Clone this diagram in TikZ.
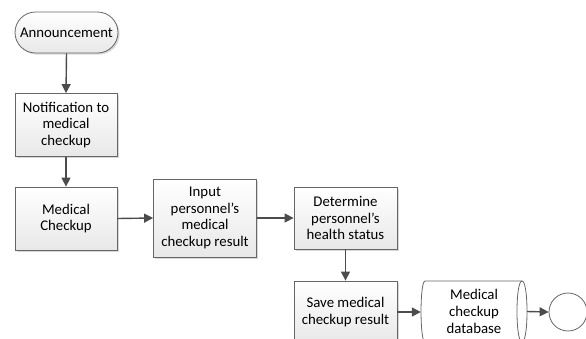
\documentclass[tikz,border=0pt]{standalone}
\usepackage{fontspec}
\setmainfont{Carlito}
\usetikzlibrary{arrows.meta,shadows,calc}

\begin{document}
\begin{tikzpicture}[x=1pt,y=-1pt,
  txt/.style={align=center, inner sep=1pt, font=\fontsize{14.8}{16.6}\selectfont},
  box/.style={txt, draw=black!60, line width=0.8pt, top color=white, bottom color=black!9,
    drop shadow={shadow xshift=1.6pt, shadow yshift=-1.6pt, fill=black!30, opacity=0.5},
    minimum width=102pt, minimum height=63pt},
  term/.style={box, minimum width=103pt, minimum height=41pt, rounded corners=20.5pt},
  flow/.style={draw=black!70, line width=1.4pt, -{Triangle[length=9pt,width=9pt]}}]

\useasboundingbox (0,0) rectangle (586,338);
\clip (0,0) rectangle (586,338);

% process steps
\node[term] (ann) at (66.5,32.5) {Announcement};
\node[box] (notif) at (66,125) {Notification to\\medical\\checkup};
\node[box] (med) at (66,218.5) {Medical\\Checkup};
\node[box, minimum width=103pt, minimum height=78pt] (input) at (205,218) {Input\\personnel’s\\medical\\checkup result};
\node[box, minimum width=103pt, minimum height=62pt] (det) at (345.5,218) {Determine\\personnel’s\\health status};
\node[box, minimum width=103pt, minimum height=62pt] (save) at (345.5,312) {Save medical\\checkup result};

% stored data (horizontal cylinder)
\draw[black!60, line width=0.8pt, fill=white]
  (425,281) -- (522,281) .. controls (528.7,281) and (528.7,342) .. (522,342)
  -- (425,342) .. controls (419.7,342) and (419.7,281) .. (425,281) -- cycle;
\draw[black!60, line width=0.8pt] (522,281) .. controls (515.3,281) and (515.3,342) .. (522,342);
\node[txt, minimum width=106pt, minimum height=62pt] (db) at (474,311.5) {Medical\\checkup\\database};
\coordinate (dbout) at (527,311.5);

% end point
\node[circle, draw=black!60, line width=0.8pt, fill=white, minimum size=38pt, inner sep=0pt] (fin) at (568,312) {};

% connectors
\draw[flow] (ann.south) -- (notif.north);
\draw[flow] (notif.south) -- (med.north);
\draw[flow] (med.east) -- (input.west);
\draw[flow] (input.east) -- (det.west);
\draw[flow] (det.south) -- (save.north);
\draw[flow] (save.east) -- (save.east -| db.west);
\draw[flow] (dbout) -- (fin.west);
\end{tikzpicture}
\end{document}
